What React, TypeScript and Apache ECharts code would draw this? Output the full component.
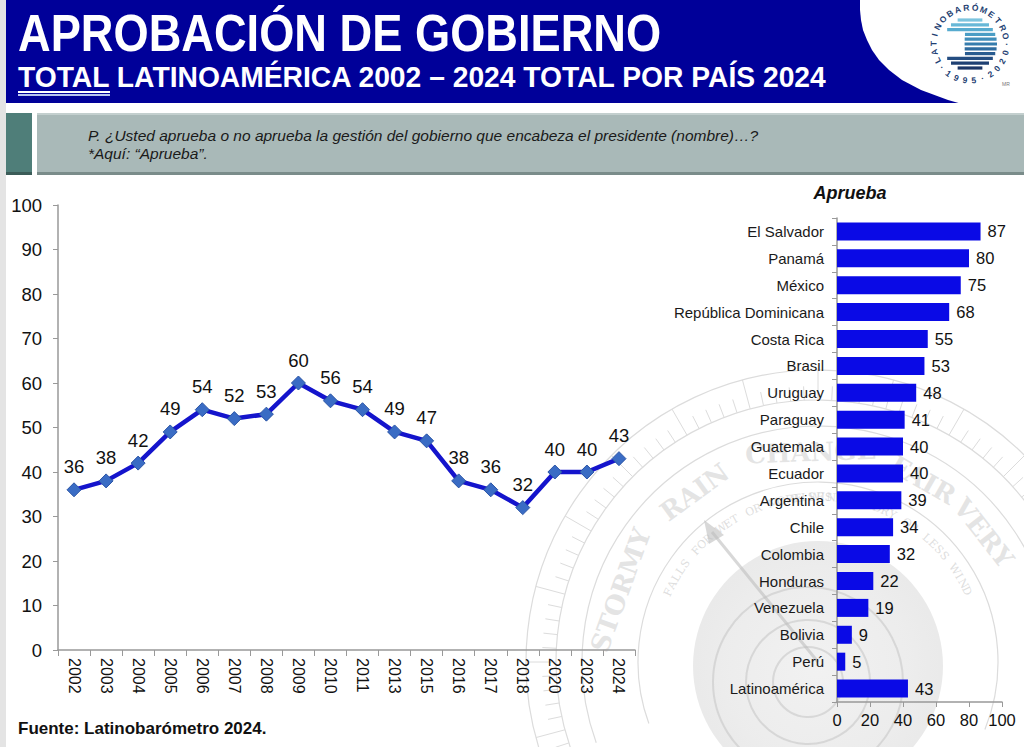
import { useEffect, useRef } from 'react';
import * as echarts from 'echarts';

// serie histórica (total Latinoamérica)
const years = ['2002', '2003', '2004', '2005', '2006', '2007', '2008', '2009', '2010', '2011', '2013', '2015', '2016', '2017', '2018', '2020', '2023', '2024'];
const approvalTotal = [36, 38, 42, 49, 54, 52, 53, 60, 56, 54, 49, 47, 38, 36, 32, 40, 40, 43];

// total por país 2024
const countries = ['El Salvador', 'Panamá', 'México', 'República Dominicana', 'Costa Rica', 'Brasil', 'Uruguay', 'Paraguay', 'Guatemala', 'Ecuador', 'Argentina', 'Chile', 'Colombia', 'Honduras', 'Venezuela', 'Bolivia', 'Perú', 'Latinoamérica'];
const approvalByCountry = [87, 80, 75, 68, 55, 53, 48, 41, 40, 40, 39, 34, 32, 22, 19, 9, 5, 43];

const lineAxisMax = 100;
const lineAxisStep = 10;
const barAxisMax = 100;
const barAxisStep = 20;

const FONT = 'Liberation Sans, Arial, sans-serif';
const rad = (d: number) => (d * Math.PI) / 180;

// letras sobre un arco; outward = la parte alta de la letra mira hacia fuera
function arcText(text: string, cx: number, cy: number, r: number, startDeg: number, stepDeg: number, font: string, fill: string, outward: boolean, z: number) {
  const els: any[] = [];
  for (let i = 0; i < text.length; i++) {
    const th = startDeg + i * stepDeg;
    els.push({
      type: 'text',
      x: cx + r * Math.cos(rad(th)),
      y: cy + r * Math.sin(rad(th)),
      rotation: rad(outward ? 270 - th : 90 - th),
      style: { text: text[i], fill, font, textAlign: 'center', textVerticalAlign: 'middle' },
      z,
    });
  }
  return els;
}

function logoElements() {
  const cx = 970;
  const cy = 44;
  const els: any[] = [];
  const r = 27;
  const stripeColors = ['#7cc4de', '#68b8d7', '#57abcf', '#4a9dc5', '#3f8dba', '#367dad', '#2f6c9f', '#295c90', '#244d81', '#1f4073', '#1b3566'];
  for (let i = 0; i < stripeColors.length; i++) {
    const y = cy - r + 3 + i * 4.8;
    const dy = y - cy;
    const half = Math.sqrt(Math.max(r * r - dy * dy, 0));
    const cut = i > 2 && i < 8 ? half * 0.2 : half;
    els.push({
      type: 'rect',
      shape: { x: cx - cut, y: y - 1.6, width: half + cut, height: 3.2 },
      style: { fill: stripeColors[i] },
      z: 11,
    });
  }
  els.push(...arcText('LATINOBARÓMETRO', cx, cy, 36.5, 153, 13.9, `bold 8.5px ${FONT}`, '#1f3f73', true, 11));
  els.push(...arcText('·1995·2020·', cx, cy, 36.5, 140, -14, `bold 8.5px ${FONT}`, '#1f3f73', false, 11));
  els.push({ type: 'text', x: 1006, y: 84, style: { text: 'MR', fill: '#777', font: `5px ${FONT}`, textAlign: 'center', textVerticalAlign: 'middle' }, z: 11 });
  return els;
}

function watermarkElements() {
  const cx = 818;
  const cy = 662;
  const stroke = '#dcdcdc';
  const els: any[] = [];
  els.push({
    type: 'circle',
    shape: { cx, cy: cy + 4, r: 125 },
    style: {
      fill: new echarts.graphic.RadialGradient(0.5, 0.5, 0.5, [
        { offset: 0, color: 'rgba(228,228,228,0.5)' },
        { offset: 0.75, color: 'rgba(218,218,218,0.5)' },
        { offset: 1, color: 'rgba(208,208,208,0.45)' },
      ]),
    },
    z: 0,
  });
  [95, 62, 35].forEach((r) => {
    els.push({ type: 'circle', shape: { cx: cx - 10, cy: cy + 20, r }, style: { fill: 'none', stroke: 'rgba(200,200,200,0.6)', lineWidth: 2 }, z: 0 });
  });
  [180, 236, 262, 292].forEach((r) => {
    els.push({
      type: 'arc',
      shape: { cx, cy, r, startAngle: rad(160), endAngle: rad(382), clockwise: true },
      style: { fill: 'none', stroke, lineWidth: 1.2 },
      z: 0,
    });
  });
  for (let a = 162; a <= 380; a += 3) {
    const t = rad(a);
    const r1 = 262;
    const r2 = a % 15 === 0 ? 292 : 276;
    els.push({
      type: 'line',
      shape: { x1: cx + r1 * Math.cos(t), y1: cy + r1 * Math.sin(t), x2: cx + r2 * Math.cos(t), y2: cy + r2 * Math.sin(t) },
      style: { stroke, lineWidth: 1 },
      z: 0,
    });
  }
  const words = [
    { t: 'STORMY', th: 200 },
    { t: 'RAIN', th: 234 },
    { t: 'CHANGE', th: 268 },
    { t: 'FAIR', th: 300 },
    { t: 'VERY', th: 322 },
  ];
  words.forEach((w) => {
    els.push({
      type: 'text',
      x: cx + 210 * Math.cos(rad(w.th)),
      y: cy + 210 * Math.sin(rad(w.th)),
      rotation: rad(270 - w.th),
      style: { text: w.t, fill: 'rgba(205,205,205,0.55)', font: 'bold 26px DejaVu Serif, serif', textAlign: 'center', textVerticalAlign: 'middle' },
      z: 0,
    });
  });
  els.push(...arcText('FALLS FOR WET OR MORE WIND', cx, cy, 165, 205, 2.9, `11px DejaVu Serif, serif`, 'rgba(200,200,200,0.6)', true, 0));
  els.push(...arcText('RISES FOR DRY OR LESS WIND', cx, cy, 165, 262, 2.9, `11px DejaVu Serif, serif`, 'rgba(200,200,200,0.6)', true, 0));
  els.push({ type: 'line', shape: { x1: cx, y1: cy, x2: 712, y2: 532 }, style: { stroke: 'rgba(190,190,190,0.6)', lineWidth: 3 }, z: 0 });
  els.push({ type: 'polygon', shape: { points: [[704, 520], [724, 535], [709, 544]] }, style: { fill: 'rgba(190,190,190,0.6)' }, z: 0 });
  return els;
}

// borde curvo blanco de la cabecera
const headerCurve = [
  [860, -5], [860, 10], [861, 20], [863, 30], [867, 40], [872, 50], [879, 60], [889, 70], [902, 80], [921, 90], [948, 100], [962, 104],
  [1000, 112], [1040, 112], [1040, -5],
];

export default function App() {
  const ref = useRef<HTMLDivElement | null>(null);

  useEffect(() => {
    if (!ref.current) return;
    const chart = echarts.init(ref.current, undefined, { renderer: 'svg' });

    const header: any[] = [
      { type: 'rect', shape: { x: 0, y: 0, width: 6, height: 747 }, style: { fill: '#e4e4e4' }, z: 5 },
      { type: 'rect', shape: { x: 6, y: 0, width: 1018, height: 103 }, style: { fill: '#000099' }, z: 5 },
      { type: 'polygon', shape: { points: headerCurve }, style: { fill: '#ffffff' }, z: 6 },
      {
        type: 'text', x: 18, y: 33, scaleX: 0.887,
        style: { text: 'APROBACIÓN DE GOBIERNO', fill: '#fff', font: `bold 51px ${FONT}`, textVerticalAlign: 'middle' },
        z: 10,
      },
      {
        type: 'text', x: 18, y: 77, scaleX: 0.942,
        style: { text: 'TOTAL LATINOAMÉRICA 2002 – 2024 TOTAL POR PAÍS 2024', fill: '#fff', font: `bold 30px ${FONT}`, textVerticalAlign: 'middle' },
        z: 10,
      },
      { type: 'rect', shape: { x: 18, y: 91, width: 92, height: 2 }, style: { fill: '#ffffff' }, z: 10 },
      { type: 'rect', shape: { x: 18, y: 94, width: 92, height: 2 }, style: { fill: '#b8c4f0' }, z: 10 },
      // caja de la pregunta
      { type: 'rect', shape: { x: 6, y: 113, width: 26, height: 62 }, style: { fill: '#4f7e79' }, z: 7 },
      { type: 'rect', shape: { x: 6, y: 172, width: 26, height: 3 }, style: { fill: '#3b5c58' }, z: 7 },
      { type: 'rect', shape: { x: 37, y: 113, width: 987, height: 62 }, style: { fill: '#a9b9b8' }, z: 7 },
      { type: 'rect', shape: { x: 37, y: 113, width: 987, height: 2 }, style: { fill: '#c3cfce' }, z: 7 },
      { type: 'rect', shape: { x: 37, y: 172, width: 987, height: 3 }, style: { fill: '#7a8c8a' }, z: 7 },
      {
        type: 'text', x: 88, y: 135,
        style: { text: 'P. ¿Usted aprueba o no aprueba la gestión del gobierno que encabeza el presidente (nombre)…?', fill: '#1a1a1a', font: `italic 15.5px ${FONT}`, textVerticalAlign: 'middle' },
        z: 10,
      },
      {
        type: 'text', x: 88, y: 153,
        style: { text: '*Aquí: “Aprueba”.', fill: '#1a1a1a', font: `italic 15.5px ${FONT}`, textVerticalAlign: 'middle' },
        z: 10,
      },
      {
        type: 'text', x: 850, y: 193,
        style: { text: 'Aprueba', fill: '#111', font: `italic bold 18px ${FONT}`, textAlign: 'center', textVerticalAlign: 'middle' },
        z: 10,
      },
      {
        type: 'text', x: 18, y: 728,
        style: { text: 'Fuente: Latinobarómetro 2024.', fill: '#111', font: `bold 17px ${FONT}`, textVerticalAlign: 'middle' },
        z: 10,
      },
    ];

    chart.setOption({
      animation: false,
      backgroundColor: '#ffffff',
      textStyle: { fontFamily: FONT },
      graphic: { elements: [...watermarkElements(), ...header, ...logoElements()] },
      grid: [
        { left: 58, top: 205, width: 577, height: 445, containLabel: false },
        { left: 837, top: 218, width: 165, height: 484, containLabel: false },
      ],
      xAxis: [
        {
          gridIndex: 0,
          type: 'category',
          data: years,
          boundaryGap: true,
          axisLine: { lineStyle: { color: '#999', width: 1.5 } },
          axisTick: { show: true, interval: 0, length: 6, lineStyle: { color: '#999' } },
          axisLabel: { interval: 0, rotate: -90, fontSize: 16, color: '#111', margin: 8 },
          splitLine: { show: false },
        },
        {
          gridIndex: 1,
          type: 'value',
          min: 0,
          max: barAxisMax,
          interval: barAxisStep,
          axisLine: { show: true, lineStyle: { color: '#999', width: 1.5 } },
          axisTick: { show: true, length: 5, lineStyle: { color: '#999' } },
          axisLabel: { fontSize: 16.5, color: '#111', margin: 9 },
          splitLine: { show: false },
        },
      ],
      yAxis: [
        {
          gridIndex: 0,
          type: 'value',
          min: 0,
          max: lineAxisMax,
          interval: lineAxisStep,
          axisLine: { show: true, lineStyle: { color: '#999', width: 1.5 } },
          axisTick: { show: true, length: 5, lineStyle: { color: '#999' } },
          axisLabel: { fontSize: 18.5, color: '#111', margin: 16 },
          splitLine: { show: false },
        },
        {
          gridIndex: 1,
          type: 'category',
          data: countries,
          inverse: true,
          axisLine: { show: true, lineStyle: { color: '#999', width: 1.5 } },
          axisTick: { show: true, interval: 0, length: 5, lineStyle: { color: '#999' } },
          axisLabel: { interval: 0, fontSize: 15, color: '#1a1a1a', margin: 13 },
          splitLine: { show: false },
        },
      ],
      series: [
        {
          type: 'line',
          xAxisIndex: 0,
          yAxisIndex: 0,
          data: approvalTotal,
          symbol: 'diamond',
          symbolSize: 14,
          lineStyle: { color: '#1414cc', width: 4.5 },
          itemStyle: { color: '#3a6cc4', borderColor: '#2b55a6', borderWidth: 1 },
          label: { show: true, position: 'top', distance: 6, fontSize: 18.5, color: '#111' },
          z: 5,
        },
        {
          type: 'bar',
          xAxisIndex: 1,
          yAxisIndex: 1,
          data: approvalByCountry,
          barWidth: 18,
          itemStyle: { color: '#0a0ae6' },
          label: { show: true, position: 'right', distance: 7, fontSize: 16.5, color: '#111' },
          z: 5,
        },
      ],
    });

    return () => {
      chart.dispose();
    };
  }, []);

  return <div ref={ref} style={{ position: 'absolute', left: 0, top: 0, width: 1024, height: 747 }} />;
}
